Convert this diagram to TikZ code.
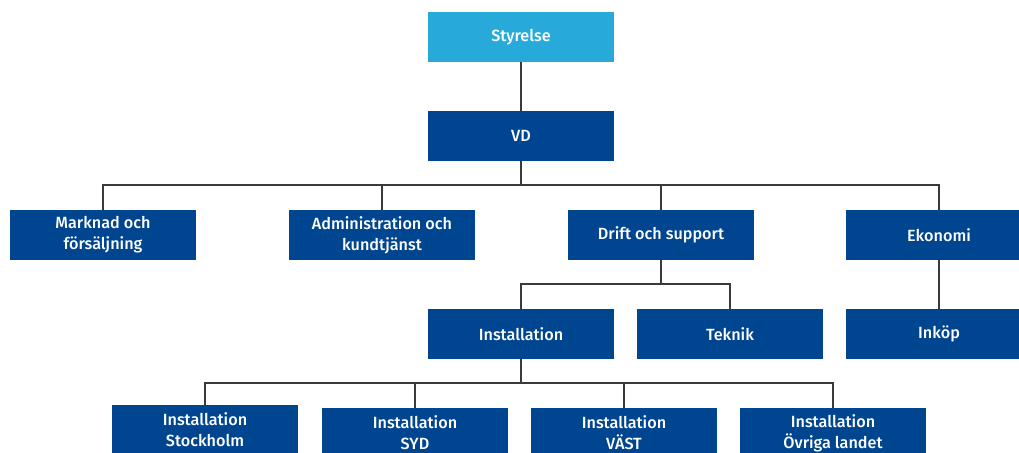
\documentclass[tikz,border=0pt]{standalone}
\usepackage{fontspec}
\setmainfont{Fira Sans}[UprightFont={* Medium}, BoldFont={* SemiBold}]
\begin{document}
\begin{tikzpicture}[x=1pt,y=-1pt,
  box/.style={fill=darkblue, text=white, minimum width=186pt, minimum height=50pt, inner sep=0pt, align=center, font=\fontsize{16.2}{21}\selectfont},
  topbox/.style={box, fill=lightblue},
  conn/.style={draw=linegray, line width=1.1pt}]
\definecolor{darkblue}{HTML}{00458F}
\definecolor{lightblue}{HTML}{27AAD9}
\definecolor{linegray}{HTML}{3A3A3A}
\clip (0,0) rectangle (1019,452);
\useasboundingbox (0,0) rectangle (1019,452);
\node[topbox] (sty) at (521,37) {Styrelse};
\node[box] (vd) at (521,136) {VD};
\node[box] (mark) at (103,235) {Marknad och\\försäljning};
\node[box] (adm) at (382,235) {Administration och\\kundtjänst};
\node[box] (drift) at (661,235) {Drift och support};
\node[box] (eko) at (939,235) {Ekonomi};
\node[box] (inst) at (521,334) {Installation};
\node[box] (tek) at (730,334) {Teknik};
\node[box] (ink) at (939,334) {Inköp};
\node[box] (sth) at (205,430) {Installation\\Stockholm};
\node[box] (syd) at (415,433) {Installation\\SYD};
\node[box] (vast) at (624,433) {Installation\\VÄST};
\node[box] (ovr) at (833,433) {Installation\\Övriga landet};
\coordinate (b1) at (521,185);
\coordinate (b2) at (661,284);
\coordinate (b3) at (521,383);
\draw[conn] (sty.south) -- (vd.north);
\draw[conn] (vd.south) -- (b1);
\draw[conn] (mark.north) |- (b1) -| (eko.north);
\draw[conn] (adm.north) -- (adm.north |- b1);
\draw[conn] (drift.north) -- (drift.north |- b1);
\draw[conn] (drift.south) -- (b2);
\draw[conn] (inst.north) |- (b2) -| (tek.north);
\draw[conn] (eko.south) -- (ink.north);
\draw[conn] (inst.south) -- (b3);
\draw[conn] (sth.north) |- (b3) -| (ovr.north);
\draw[conn] (syd.north) -- (syd.north |- b3);
\draw[conn] (vast.north) -- (vast.north |- b3);
\end{tikzpicture}
\end{document}
